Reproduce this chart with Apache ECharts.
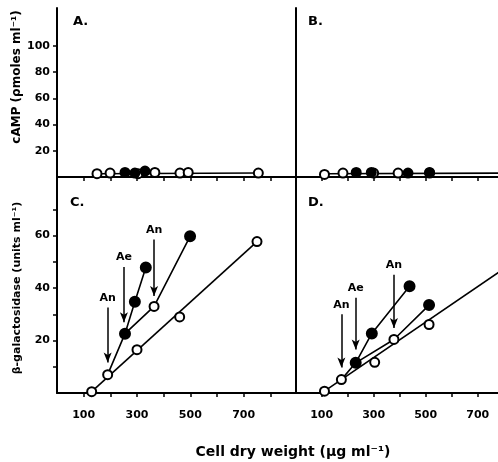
<!DOCTYPE html>
<html><head><meta charset="utf-8">
<script src="https://cdn.jsdelivr.net/npm/echarts@6/dist/echarts.min.js"></script>
<style>html,body{margin:0;padding:0;background:#fff}#c{width:498px;height:462px}</style>
</head><body><div id="c"></div><script>
// tick values / labels
const xTicksLeft=[100,200,300,400,500,600,700,800];
const xTicksRight=[100,200,300,400,500,600,700];
const xLabels=[100,300,500,700];
const yTicksA=[20,40,60,80,100];
const yLabelsA=[20,40,60,80,100];
const yTicksC=[10,20,30,40,50,60,70];
const yLabelsC=[20,40,60];

// Panel A (cAMP, left)
const aOpen=[[150,2.5],[199,3],[304,2.5],[367,3.5],[461,3],[492,3.5],[755,3]];
const aFilled=[[255,3.5],[292,3],[330,4.5]];
const aLine=[[150,2.5],[755,3]];
// Panel B (cAMP, right)
const bOpen=[[111,2],[182,3],[300,3],[394,3],[515,3]];
const bFilled=[[233,3.5],[291,3.5],[432,3],[515,3.5]];
const bLine=[[111,2.5],[800,3]];
// Panel C (beta-galactosidase, left)
const cOpen=[[130,0.5],[190,7],[300,16.5],[364,33],[460,29],[750,57.7]];
const cFilled=[[255,22.6],[292,34.8],[333,47.8],[499,59.7]];
const cLine1=[[130,0.5],[750,57.7]];
const cLine2=[[190,7],[255,22.6],[292,34.8],[333,47.8]];
const cLine3=[[255,22.6],[364,33],[499,59.7]];
const cArrows=[['An',190,32.6,11.6],['Ae',251,48,27],['An',364,58.5,37]];
// Panel D (beta-galactosidase, right)
const dOpen=[[111,0.7],[176,5.1],[304,11.7],[378,20.4],[513,26.1]];
const dFilled=[[231,11.5],[293,22.7],[438,40.7],[513,33.5]];
const dLine1=[[111,0.7],[790,46.6]];
const dLine2=[[176,5.1],[231,11.5],[293,22.7],[438,40.7]];
const dLine3=[[231,11.5],[378,20.4],[513,33.5]];
const dArrows=[['An',176,30,9.7],['Ae',231,36.3,16.6],['An',378,45.1,24.8]];

const FONT='DejaVu Sans';
const txt={fontFamily:FONT,fontWeight:'bold',fontSize:11,color:'#000'};
const axLine={show:true,lineStyle:{color:'#000',width:2}};

function xAxis(grid,left,showLabels){
  return {type:'value',gridIndex:grid,min:left?0:-10,max:left?885:778,
    axisLine:axLine,splitLine:{show:false},
    axisTick:{show:true,length:4,lineStyle:{color:'#000',width:1.5},customValues:left?xTicksLeft:xTicksRight},
    axisLabel:{show:showLabels,margin:17,customValues:xLabels,...txt}};
}
function yAxis(grid,left,max,ticks,labels){
  return {type:'value',gridIndex:grid,min:0,max:max,
    axisLine:axLine,splitLine:{show:false},
    axisTick:{show:left,length:4,lineStyle:{color:'#000',width:1.5},customValues:ticks},
    axisLabel:{show:left,margin:7,customValues:labels,...txt}};
}
function lineS(i,data,extra){
  return Object.assign({type:'line',xAxisIndex:i,yAxisIndex:i,data:data,symbol:'none',
    lineStyle:{color:'#000',width:1.6},z:2,silent:true,animation:false},extra||{});
}
function scat(i,data,filled,size){
  return {type:'scatter',xAxisIndex:i,yAxisIndex:i,data:data,symbol:'circle',symbolSize:size,
    itemStyle:{color:filled?'#000':'#fff',borderColor:'#000',borderWidth:2,opacity:1},z:filled?4:3,silent:true,animation:false};
}
function arrows(list){
  return {silent:true,animation:false,symbol:['none','arrow'],symbolSize:[6,10],
    lineStyle:{color:'#000',width:1.5,type:'solid'},
    label:{show:true,position:'start',distance:4,formatter:'{b}',...txt},
    emphasis:{disabled:true},
    data:list.map(a=>[{coord:[a[1],a[2]],name:a[0]},{coord:[a[1],a[3]]}])};
}

const grids=[
  {left:57,top:8,width:236,height:169},
  {left:293,top:8,width:205,height:169},
  {left:57,top:177,width:236,height:216},
  {left:293,top:177,width:205,height:216}
].map(g=>Object.assign(g,{outerBoundsMode:'none',containLabel:false}));

const option={
  animation:false,
  backgroundColor:'#fff',
  grid:grids,
  xAxis:[xAxis(0,true,false),xAxis(1,false,false),xAxis(2,true,true),xAxis(3,false,true)],
  yAxis:[yAxis(0,true,129,yTicksA,yLabelsA),yAxis(1,false,129,[],[]),
         yAxis(2,true,82.3,yTicksC,yLabelsC),yAxis(3,false,82.3,[],[])],
  series:[
    lineS(0,aLine), scat(0,aOpen,false,9), scat(0,aFilled,true,9),
    lineS(1,bLine), scat(1,bOpen,false,9), scat(1,bFilled,true,9),
    lineS(2,cLine1,{markLine:arrows(cArrows)}), lineS(2,cLine2), lineS(2,cLine3),
    scat(2,cOpen,false,9), scat(2,cFilled,true,10),
    lineS(3,dLine1,{markLine:arrows(dArrows)}), lineS(3,dLine2), lineS(3,dLine3),
    scat(3,dOpen,false,9), scat(3,dFilled,true,10)
  ],
  graphic:[
    {type:'text',x:73,y:22,style:{text:'A.',font:'bold 13px '+FONT,fill:'#000',textVerticalAlign:'middle'}},
    {type:'text',x:308,y:22,style:{text:'B.',font:'bold 13px '+FONT,fill:'#000',textVerticalAlign:'middle'}},
    {type:'text',x:70,y:203,style:{text:'C.',font:'bold 13px '+FONT,fill:'#000',textVerticalAlign:'middle'}},
    {type:'text',x:308,y:203,style:{text:'D.',font:'bold 13px '+FONT,fill:'#000',textVerticalAlign:'middle'}},
    {type:'text',x:17,y:77,rotation:Math.PI/2,style:{text:'cAMP (ρmoles ml⁻¹)',font:'bold 12px '+FONT,fill:'#000',textAlign:'center',textVerticalAlign:'middle'}},
    {type:'text',x:17,y:288,rotation:Math.PI/2,style:{text:'β-galactosidase (units ml⁻¹)',font:'bold 11px '+FONT,fill:'#000',textAlign:'center',textVerticalAlign:'middle'}},
    {type:'text',x:293,y:452,style:{text:'Cell dry weight (µg ml⁻¹)',font:'bold 14px '+FONT,fill:'#000',textAlign:'center',textVerticalAlign:'middle'}}
  ]
};
echarts.init(document.getElementById('c'),null,{renderer:'canvas'}).setOption(option);
</script></body></html>
